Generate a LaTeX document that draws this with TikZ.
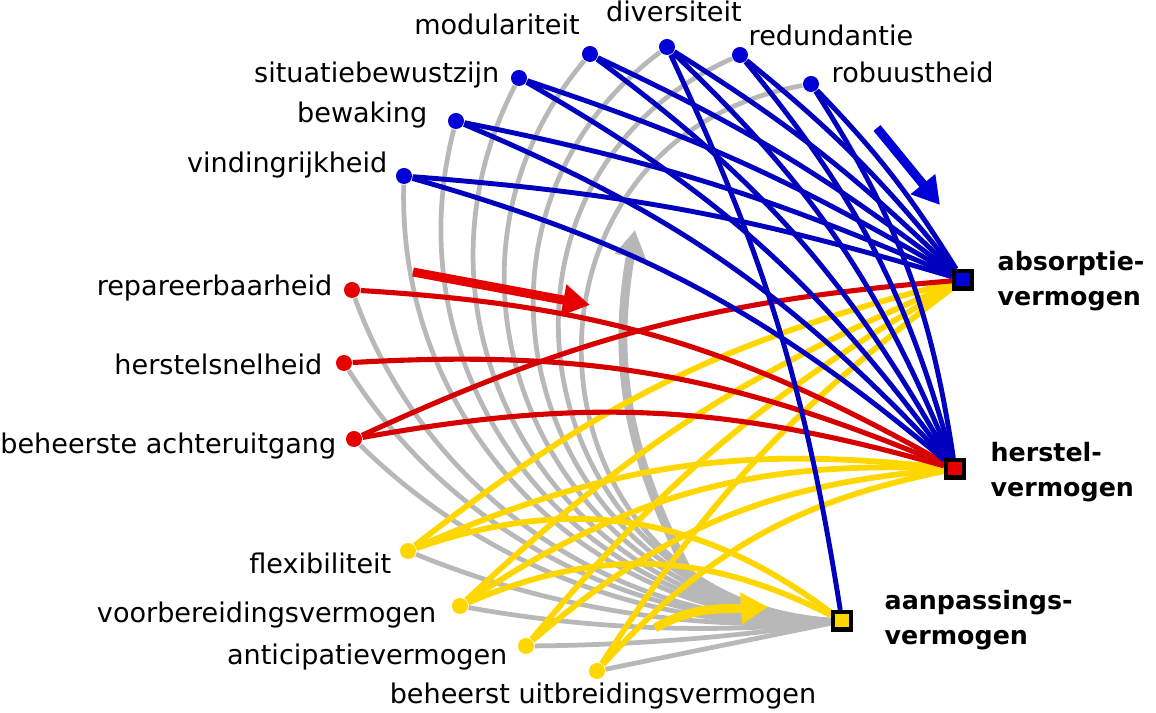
\documentclass[tikz,border=0pt]{standalone}
\usepackage{fontspec}
\setmainfont{DejaVu Sans}
\usetikzlibrary{arrows.meta,backgrounds}

\definecolor{lnblue}{RGB}{0,0,190}
\definecolor{dtblue}{RGB}{0,0,215}
\definecolor{lnred}{RGB}{215,0,0}
\definecolor{dtred}{RGB}{230,0,0}
\definecolor{lnyel}{RGB}{255,215,0}
\definecolor{lngray}{RGB}{184,184,184}

\tikzstyle{prop}=[circle,inner sep=0pt,minimum size=0.16cm]
\tikzstyle{vermbox}=[rectangle,draw=black,line width=0.045cm,inner sep=0pt,minimum size=0.175cm]
\tikzstyle{lbl}=[inner sep=0pt,font=\fontsize{7.7}{9.5}\selectfont]
\tikzstyle{vermlbl}=[inner sep=0pt,align=left,font=\fontsize{7.2}{9.96}\selectfont\bfseries]
\tikzstyle{lnG}=[draw=lngray,line width=1.35pt]
\tikzstyle{lnB}=[draw=lnblue,line width=1.4pt]
\tikzstyle{lnR}=[draw=lnred,line width=1.45pt]
\tikzstyle{lnY}=[draw=lnyel,line width=1.65pt]
\tikzstyle{fat}=[line width=0.09cm,-{Triangle[width=0.3cm,length=0.27cm]}]

\begin{document}
\begin{tikzpicture}[x=0.01cm,y=0.01cm]
  \useasboundingbox (0,0) rectangle (1156,-713);

  % eigenschappen
  \node[prop,fill=dtblue] (rob) at (811,-84) {};
  \node[prop,fill=dtblue] (redu) at (740,-55) {};
  \node[prop,fill=dtblue] (div) at (667,-47) {};
  \node[prop,fill=dtblue] (mod) at (590,-54) {};
  \node[prop,fill=dtblue] (sit) at (519,-78) {};
  \node[prop,fill=dtblue] (bew) at (456,-121) {};
  \node[prop,fill=dtblue] (vin) at (404,-176) {};
  \node[prop,fill=dtred] (rep) at (352,-290) {};
  \node[prop,fill=dtred] (hsn) at (344,-363) {};
  \node[prop,fill=dtred] (bac) at (354,-439) {};
  \node[prop,fill=lnyel] (fle) at (408,-551) {};
  \node[prop,fill=lnyel] (voo) at (460,-606) {};
  \node[prop,fill=lnyel] (ant) at (526,-646) {};
  \node[prop,fill=lnyel] (bui) at (597,-671) {};

  % vermogens
  \node[vermbox,fill=dtblue] (abs) at (963,-280) {};
  \node[vermbox,fill=dtred] (her) at (955,-469) {};
  \node[vermbox,fill=lnyel] (aan) at (842,-621) {};

  \node[lbl,anchor=base west] (robL) at (831,-83) {robuustheid};
  \node[lbl,anchor=base west] (reduL) at (748,-46) {redundantie};
  \node[lbl,anchor=base] (divL) at (674,-22) {diversiteit};
  \node[lbl,anchor=base] (modL) at (497,-35) {modulariteit};
  \node[lbl,anchor=base east] (sitL) at (500,-83) {situatiebewustzijn};
  \node[lbl,anchor=base east] (bewL) at (428,-123) {bewaking};
  \node[lbl,anchor=base east] (vinL) at (388,-173) {vindingrijkheid};
  \node[lbl,anchor=base east] (repL) at (333,-296) {repareerbaarheid};
  \node[lbl,anchor=base east] (hsnL) at (323,-375) {herstelsnelheid};
  \node[lbl,anchor=base east] (bacL) at (337,-454) {beheerste achteruitgang};
  \node[lbl,anchor=base east] (fleL) at (392,-574) {flexibiliteit};
  \node[lbl,anchor=base east] (vooL) at (437,-623) {voorbereidingsvermogen};
  \node[lbl,anchor=base east] (antL) at (508,-665) {anticipatievermogen};
  \node[lbl,anchor=base] (buiL) at (603,-704) {beheerst uitbreidingsvermogen};
  \node[vermlbl,anchor=west] (absL) at (997,-281) {absorptie-\\vermogen};
  \node[vermlbl,anchor=west] (herL) at (990,-472) {herstel-\\vermogen};
  \node[vermlbl,anchor=west] (aanL) at (884,-620) {aanpassings-\\vermogen};

  \coordinate (gS) at (695,-585); \coordinate (gE) at (635,-230);
  \coordinate (yS) at (655,-628); \coordinate (yE) at (768,-607);
  \coordinate (rS) at (413,-272); \coordinate (rE) at (590,-305);
  \coordinate (bS) at (877,-128); \coordinate (bE) at (940,-205);

  \begin{scope}[on background layer]
  % grijze bogen
  \draw[lnG] (rob) to[bend right=83,looseness=1.51] (aan);
  \draw[lnG] (redu) to[bend right=76,looseness=1.37] (aan);
  \draw[lnG] (div) to[bend right=70,looseness=1.27] (aan);
  \draw[lnG] (mod) to[bend right=64,looseness=1.18] (aan);
  \draw[lnG] (sit) to[bend right=58,looseness=1.12] (aan);
  \draw[lnG] (bew) to[bend right=52,looseness=1.06] (aan);
  \draw[lnG] (vin) to[bend right=46,looseness=1.01] (aan);
  \draw[lnG] (rep) to[bend right=36,looseness=0.94] (aan);
  \draw[lnG] (hsn) to[bend right=30,looseness=0.91] (aan);
  \draw[lnG] (bac) to[bend right=24,looseness=0.89] (aan);
  \draw[lnG] (fle) to[bend right=13,looseness=0.86] (aan);
  \draw[lnG] (voo) to[bend right=8,looseness=0.85] (aan);
  \draw[lnG] (ant) to[bend right=4,looseness=0.85] (aan);
  \draw[lnG] (bui) -- (aan);
  \draw[fat,lngray] (gS) to[out=118,in=-100] (gE);
  %
  \draw[lnY] (fle) to[bend left=12] (abs); \draw[lnY] (fle) to[bend left=15] (her); \draw[lnY] (fle) to[bend left=28] (aan);
  \draw[lnY] (voo) to[bend left=10] (abs); \draw[lnY] (voo) to[bend left=18] (her); \draw[lnY] (voo) to[bend left=25] (aan);
  \draw[lnY] (ant) to[bend left=10] (abs); \draw[lnY] (ant) to[bend left=18] (her);
  \draw[lnY] (bui) to[bend left=10] (abs); \draw[lnY] (bui) to[bend left=18] (her);
  \draw[fat,lnyel] (yS) to[out=30,in=183] (yE);
  %
  \draw[lnR] (rep) to[bend left=13] (her); \draw[lnR] (hsn) to[bend left=13] (her);
  \draw[lnR] (bac) to[bend left=13] (her); \draw[lnR] (bac) to[bend left=10] (abs);
  \draw[fat,dtred] (rS) -- (rE);
  %
  \draw[lnB] (rob) to[bend left=6] (abs); \draw[lnB] (rob) to[bend left=12] (her);
  \draw[lnB] (redu) to[bend left=6] (abs); \draw[lnB] (redu) to[bend left=12] (her);
  \draw[lnB] (div) to[bend left=6] (abs); \draw[lnB] (div) to[bend left=12] (her); \draw[lnB] (div) to[bend left=8] (aan);
  \draw[lnB] (mod) to[bend left=6] (abs); \draw[lnB] (mod) to[bend left=12] (her);
  \draw[lnB] (sit) to[bend left=6] (abs); \draw[lnB] (sit) to[bend left=12] (her);
  \draw[lnB] (bew) to[bend left=6] (abs); \draw[lnB] (bew) to[bend left=12] (her);
  \draw[lnB] (vin) to[bend left=6] (abs); \draw[lnB] (vin) to[bend left=12] (her);
  \draw[fat,dtblue] (bS) -- (bE);
  \end{scope}

\end{tikzpicture}
\end{document}
